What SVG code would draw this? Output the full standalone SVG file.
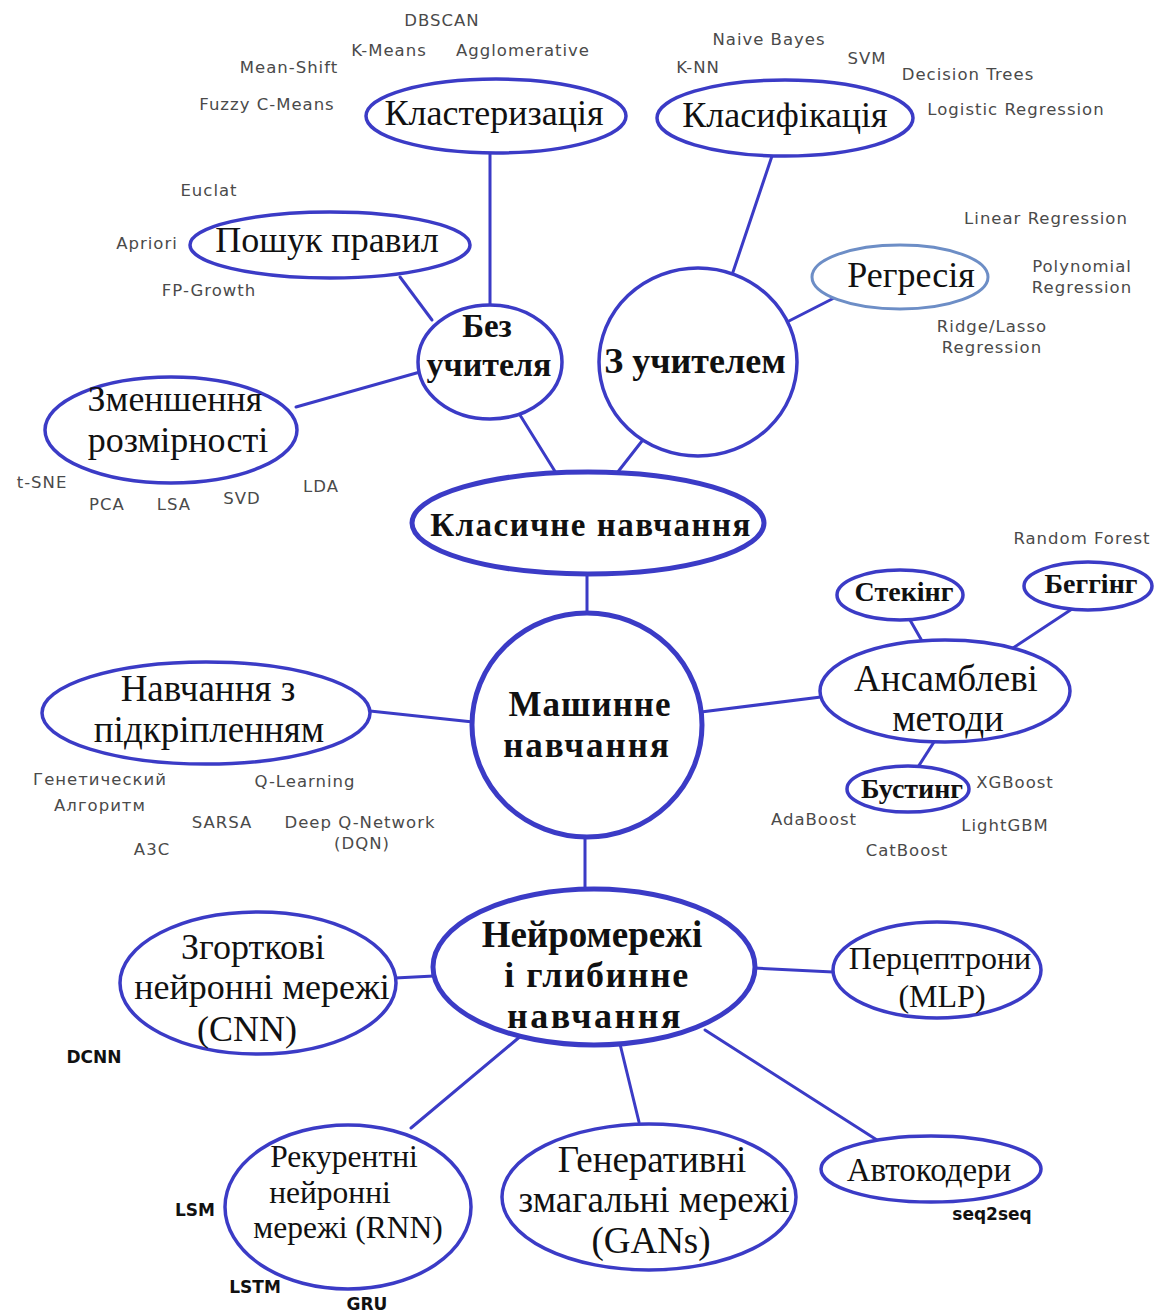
<svg xmlns="http://www.w3.org/2000/svg" width="1169" height="1314" viewBox="0 0 1169 1314">
  <style>
    .bg { fill: #ffffff; }
    .node { fill: #ffffff; stroke: #3b3bc6; stroke-width: 3.5; }
    .node-thick { fill: #ffffff; stroke: #3b3bc6; stroke-width: 5; }
    .node-light { fill: #ffffff; stroke: #6d8ec6; stroke-width: 3; }
    .edge { stroke: #3b3bc6; stroke-width: 3; fill: none; stroke-linecap: round; }
    .lbl { font-family: "Liberation Serif", "Times New Roman", serif; fill: #111; text-anchor: middle; }
    .lbl-b { font-family: "Liberation Serif", "Times New Roman", serif; font-weight: bold; fill: #111; text-anchor: middle; }
    .algo { font-family: "DejaVu Sans", "Noto Sans", sans-serif; font-size: 16.5px; letter-spacing: 1px; fill: #4a4a4a; text-anchor: middle; }
    .algo-b { font-family: "DejaVu Sans", "Noto Sans", sans-serif; font-weight: bold; font-size: 17px; fill: #111; text-anchor: middle; }
  </style>
  <rect class="bg" x="0" y="0" width="1169" height="1314"/>

  <!-- connectors -->
  <g id="connectors">
    <line class="edge" x1="490" y1="153" x2="490" y2="305"/>
    <line class="edge" x1="400" y1="277" x2="432" y2="320"/>
    <line class="edge" x1="296" y1="407" x2="420" y2="372"/>
    <line class="edge" x1="520" y1="415" x2="556" y2="473"/>
    <line class="edge" x1="642" y1="441" x2="617" y2="473"/>
    <line class="edge" x1="772" y1="156" x2="733" y2="272"/>
    <line class="edge" x1="836" y1="297" x2="787" y2="322"/>
    <line class="edge" x1="587" y1="574" x2="587" y2="613"/>
    <line class="edge" x1="370" y1="711" x2="473" y2="722"/>
    <line class="edge" x1="701" y1="712" x2="821" y2="697"/>
    <line class="edge" x1="922" y1="641" x2="910" y2="620"/>
    <line class="edge" x1="1013" y1="648" x2="1072" y2="609"/>
    <line class="edge" x1="934" y1="742" x2="918" y2="767"/>
    <line class="edge" x1="585" y1="837" x2="585" y2="890"/>
    <line class="edge" x1="434" y1="976" x2="395" y2="978"/>
    <line class="edge" x1="754" y1="968" x2="833" y2="972"/>
    <line class="edge" x1="522" y1="1035" x2="411" y2="1128"/>
    <line class="edge" x1="620" y1="1044" x2="639" y2="1122"/>
    <line class="edge" x1="705" y1="1030" x2="877" y2="1140"/>
  </g>

  <!-- classical learning branch -->
  <g id="clustering">
    <ellipse class="node" cx="496" cy="116" rx="130" ry="37"/>
    <text class="lbl" x="494" y="125" font-size="36">Кластеризація</text>
  </g>
  <g id="classification">
    <ellipse class="node" cx="785" cy="118" rx="128" ry="38"/>
    <text class="lbl" x="785" y="127" font-size="36">Класифікація</text>
  </g>
  <g id="rules">
    <ellipse class="node" cx="330" cy="245" rx="140" ry="33"/>
    <text class="lbl" x="327" y="252" font-size="36">Пошук правил</text>
  </g>
  <g id="unsupervised">
    <ellipse class="node" cx="490" cy="362" rx="72" ry="57"/>
    <text class="lbl-b" x="487" y="337" font-size="33">Без</text>
    <text class="lbl-b" x="489" y="376" font-size="34">учителя</text>
  </g>
  <g id="supervised">
    <ellipse class="node" cx="698" cy="362" rx="99" ry="94"/>
    <text class="lbl-b" x="695" y="373" font-size="36">З учителем</text>
  </g>
  <g id="regression">
    <ellipse class="node-light" cx="900" cy="277" rx="88" ry="32"/>
    <text class="lbl" x="911" y="287" font-size="36">Регресія</text>
  </g>
  <g id="dimreduction">
    <ellipse class="node" cx="171" cy="430" rx="126" ry="53"/>
    <text class="lbl" x="175" y="411" font-size="36">Зменшення</text>
    <text class="lbl" x="178" y="452" font-size="36">розмірності</text>
  </g>
  <g id="classical">
    <ellipse class="node-thick" cx="588" cy="523" rx="176" ry="51"/>
    <text class="lbl-b" x="591" y="536" font-size="33" letter-spacing="1.5">Класичне навчання</text>
  </g>

  <!-- root -->
  <g id="ml">
    <ellipse class="node-thick" cx="587" cy="725" rx="115" ry="112"/>
    <text class="lbl-b" x="590" y="716" font-size="35" letter-spacing="1">Машинне</text>
    <text class="lbl-b" x="587" y="757" font-size="35" letter-spacing="2">навчання</text>
  </g>

  <!-- reinforcement learning -->
  <g id="reinforcement">
    <ellipse class="node" cx="206" cy="713" rx="164" ry="51"/>
    <text class="lbl" x="208" y="701" font-size="37">Навчання з</text>
    <text class="lbl" x="209" y="742" font-size="37">підкріпленням</text>
  </g>

  <!-- ensembles -->
  <g id="ensembles">
    <ellipse class="node" cx="945" cy="691" rx="125" ry="51"/>
    <text class="lbl" x="946" y="691" font-size="37">Ансамблеві</text>
    <text class="lbl" x="948" y="731" font-size="37">методи</text>
  </g>
  <g id="stacking">
    <ellipse class="node" cx="900" cy="595" rx="63" ry="25"/>
    <text class="lbl-b" x="904" y="601" font-size="28">Стекінг</text>
  </g>
  <g id="bagging">
    <ellipse class="node" cx="1088" cy="586" rx="64" ry="24"/>
    <text class="lbl-b" x="1091" y="593" font-size="28">Беггінг</text>
  </g>
  <g id="boosting">
    <ellipse class="node" cx="908" cy="789" rx="61" ry="23"/>
    <text class="lbl-b" x="912" y="798" font-size="28">Бустинг</text>
  </g>

  <!-- neural networks -->
  <g id="neural">
    <ellipse class="node-thick" cx="594" cy="967" rx="161" ry="78"/>
    <text class="lbl-b" x="592" y="947" font-size="37">Нейромережі</text>
    <text class="lbl-b" x="597" y="987" font-size="36" letter-spacing="1.5">і глибинне</text>
    <text class="lbl-b" x="595" y="1028" font-size="36" letter-spacing="2.5">навчання</text>
  </g>
  <g id="cnn">
    <ellipse class="node" cx="258" cy="983" rx="138" ry="71"/>
    <text class="lbl" x="253" y="959" font-size="36">Згорткові</text>
    <text class="lbl" x="262" y="999" font-size="36">нейронні мережі</text>
    <text class="lbl" x="247" y="1041" font-size="36">(CNN)</text>
  </g>
  <g id="mlp">
    <ellipse class="node" cx="937" cy="970" rx="104" ry="48"/>
    <text class="lbl" x="940" y="969" font-size="32">Перцептрони</text>
    <text class="lbl" x="942" y="1007" font-size="32">(MLP)</text>
  </g>
  <g id="rnn">
    <ellipse class="node" cx="348" cy="1207" rx="123" ry="82"/>
    <text class="lbl" x="344" y="1167" font-size="31.5">Рекурентні</text>
    <text class="lbl" x="330" y="1203" font-size="31.5">нейронні</text>
    <text class="lbl" x="348" y="1238" font-size="31.5">мережі (RNN)</text>
  </g>
  <g id="gan">
    <ellipse class="node" cx="649" cy="1197" rx="147" ry="73"/>
    <text class="lbl" x="652" y="1172" font-size="37">Генеративні</text>
    <text class="lbl" x="654" y="1212" font-size="37">змагальні мережі</text>
    <text class="lbl" x="651" y="1253" font-size="37">(GANs)</text>
  </g>
  <g id="autoencoders">
    <ellipse class="node" cx="931" cy="1169" rx="110" ry="33"/>
    <text class="lbl" x="929" y="1181" font-size="33">Автокодери</text>
  </g>

  <!-- algorithm names -->
  <g id="algorithms">
    <text class="algo" x="442" y="26">DBSCAN</text>
    <text class="algo" x="389" y="56">K-Means</text>
    <text class="algo" x="523" y="56">Agglomerative</text>
    <text class="algo" x="289" y="73">Mean-Shift</text>
    <text class="algo" x="267" y="110">Fuzzy C-Means</text>
    <text class="algo" x="769" y="45">Naive Bayes</text>
    <text class="algo" x="698" y="73">K-NN</text>
    <text class="algo" x="867" y="64">SVM</text>
    <text class="algo" x="968" y="80">Decision Trees</text>
    <text class="algo" x="1016" y="115">Logistic Regression</text>
    <text class="algo" x="209" y="196">Euclat</text>
    <text class="algo" x="147" y="249">Apriori</text>
    <text class="algo" x="209" y="296">FP-Growth</text>
    <text class="algo" x="1046" y="224">Linear Regression</text>
    <text class="algo" x="1082" y="272">Polynomial</text>
    <text class="algo" x="1082" y="293">Regression</text>
    <text class="algo" x="992" y="332">Ridge/Lasso</text>
    <text class="algo" x="992" y="353">Regression</text>
    <text class="algo" x="42" y="488">t-SNE</text>
    <text class="algo" x="107" y="510">PCA</text>
    <text class="algo" x="174" y="510">LSA</text>
    <text class="algo" x="242" y="504">SVD</text>
    <text class="algo" x="321" y="492">LDA</text>
    <text class="algo" x="1082" y="544">Random Forest</text>
    <text class="algo" x="100" y="785">Генетический</text>
    <text class="algo" x="100" y="811">Алгоритм</text>
    <text class="algo" x="305" y="787">Q-Learning</text>
    <text class="algo" x="222" y="828">SARSA</text>
    <text class="algo" x="360" y="828">Deep Q-Network</text>
    <text class="algo" x="362" y="849">(DQN)</text>
    <text class="algo" x="152" y="855">A3C</text>
    <text class="algo" x="1015" y="788">XGBoost</text>
    <text class="algo" x="814" y="825">AdaBoost</text>
    <text class="algo" x="1005" y="831">LightGBM</text>
    <text class="algo" x="907" y="856">CatBoost</text>
    <text class="algo-b" x="94" y="1063">DCNN</text>
    <text class="algo-b" x="195" y="1216">LSM</text>
    <text class="algo-b" x="255" y="1293">LSTM</text>
    <text class="algo-b" x="367" y="1310">GRU</text>
    <text class="algo-b" x="992" y="1220" font-size="14">seq2seq</text>
  </g>
</svg>
